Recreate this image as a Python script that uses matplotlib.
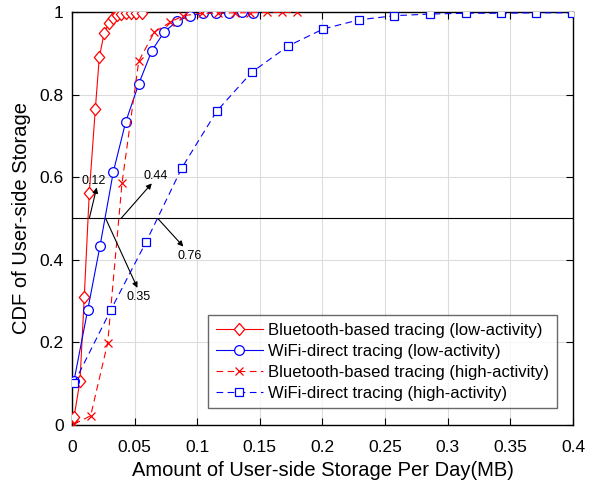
import matplotlib
matplotlib.use("Agg")
import matplotlib.pyplot as plt
from matplotlib.ticker import FuncFormatter

plt.rcParams['font.family'] = ['Liberation Sans', 'DejaVu Sans']

# Bluetooth-based tracing (low-activity)
bt_low_x = [0.0016, 0.0064, 0.0098, 0.0138, 0.0186, 0.0218, 0.0256, 0.0296, 0.0325,
            0.0357, 0.0391, 0.0429, 0.0469, 0.0511, 0.0557]
bt_low_y = [0.019, 0.107, 0.311, 0.562, 0.764, 0.890, 0.948, 0.974, 0.985,
            0.993, 0.995, 0.998, 0.998, 0.998, 0.998]

# WiFi-direct tracing (low-activity)
wf_low_x = [0.0016, 0.0125, 0.0224, 0.0330, 0.0429, 0.0533, 0.0637, 0.0737, 0.0841,
            0.0942, 0.1044, 0.1148, 0.1254, 0.1355, 0.1448]
wf_low_y = [0.107, 0.278, 0.434, 0.613, 0.734, 0.826, 0.906, 0.952, 0.978,
            0.991, 0.997, 0.997, 0.997, 1.0, 0.998]

# Bluetooth-based tracing (high-activity)
bt_high_x = [0.0016, 0.0149, 0.0285, 0.0399, 0.0533, 0.0657, 0.0783, 0.0889, 0.1036,
             0.1169, 0.1302, 0.1422, 0.1555, 0.1675, 0.1800]
bt_high_y = [0.002, 0.0225, 0.199, 0.585, 0.881, 0.951, 0.975, 0.991, 0.997,
             0.997, 0.998, 0.998, 0.999, 0.999, 0.999]

# WiFi-direct tracing (high-activity)
wf_high_x = [0.0016, 0.0309, 0.0591, 0.0876, 0.1156, 0.1435, 0.1728, 0.2007, 0.2292,
             0.2574, 0.2859, 0.3145, 0.3427, 0.3708, 0.3996]
wf_high_y = [0.101, 0.278, 0.443, 0.622, 0.760, 0.854, 0.918, 0.959, 0.981,
             0.991, 0.995, 0.997, 0.997, 0.998, 0.998]

labels = ["Bluetooth-based tracing (low-activity)",
          "WiFi-direct tracing (low-activity)",
          "Bluetooth-based tracing (high-activity)",
          "WiFi-direct tracing (high-activity)"]

# annotations
ann_text = ["0.12", "0.44", "0.35", "0.76"]
ann_start_x = [0.0138, 0.0391, 0.0269, 0.0685]
ann_tip_x = [0.0197, 0.0637, 0.0522, 0.0889]
ann_tip_y = [0.575, 0.585, 0.332, 0.432]
ann_txt_x = [0.0170, 0.0668, 0.0535, 0.0942]
ann_txt_y = [0.591, 0.604, 0.311, 0.409]

fig = plt.figure(figsize=(6.02, 4.87), dpi=100)
ax = fig.add_axes([0.1196, 0.1273, 0.8322, 0.8481])

diamond = [(0, 1), (0.85, 0), (0, -1), (-0.85, 0), (0, 1)]
dash = (0, (6, 4))
ax.plot(bt_low_x, bt_low_y, color='red', lw=0.8, marker=diamond, ms=8.8, mfc='white',
        mec='red', mew=0.9, label=labels[0], zorder=4)
ax.plot(wf_low_x, wf_low_y, color='blue', lw=0.8, marker='o', ms=7, mfc='white',
        mec='blue', mew=0.9, label=labels[1], zorder=4)
ax.plot(bt_high_x, bt_high_y, color='red', lw=0.8, ls=dash, marker='x', ms=6,
        mew=0.9, label=labels[2], zorder=4)
ax.plot(wf_high_x, wf_high_y, color='blue', lw=0.8, ls=dash, marker='s', ms=5.5, mfc='white',
        mec='blue', mew=0.9, label=labels[3], zorder=4)

ax.axhline(0.5, color='black', lw=0.8, zorder=3)

for t, sx, tx, ty, lx, ly in zip(ann_text, ann_start_x, ann_tip_x, ann_tip_y, ann_txt_x, ann_txt_y):
    ax.annotate('', xy=(tx, ty), xytext=(sx, 0.5),
                arrowprops=dict(arrowstyle='-|>', color='black', lw=0.8,
                                mutation_scale=8, shrinkA=0, shrinkB=0), zorder=5)
    ax.text(lx, ly, t, fontsize=9, ha='center', va='center', zorder=5)

ax.set_xlim(0, 0.4)
ax.set_ylim(0, 1)
ax.set_xticks([0, 0.05, 0.1, 0.15, 0.2, 0.25, 0.3, 0.35, 0.4])
ax.set_yticks([0, 0.2, 0.4, 0.6, 0.8, 1.0])
fmt = FuncFormatter(lambda v, p: ('%g' % round(v, 3)))
ax.xaxis.set_major_formatter(fmt)
ax.yaxis.set_major_formatter(fmt)
ax.tick_params(direction='in', top=True, right=True, labelsize=12.5, length=5, width=0.8)
ax.tick_params(axis='x', pad=11)
ax.tick_params(axis='y', pad=6)
ax.grid(True, color='#dcdcdc', lw=0.8)
ax.set_axisbelow(True)
for s in ax.spines.values():
    s.set_linewidth(1.0)
    s.set_color('black')

ax.set_xlabel('Amount of User-side Storage Per Day(MB)', fontsize=14.5, labelpad=4)
ax.set_ylabel('CDF of User-side Storage', fontsize=14.5, labelpad=6)

leg = ax.legend(loc='lower right', bbox_to_anchor=(0.968, 0.041), fontsize=12,
                frameon=True, fancybox=False, edgecolor='#444444', handlelength=2.8,
                borderpad=0.45, labelspacing=0.36, handletextpad=0.35, borderaxespad=0)
leg.get_frame().set_linewidth(1.0)

fig.savefig('out.png', dpi=100)
